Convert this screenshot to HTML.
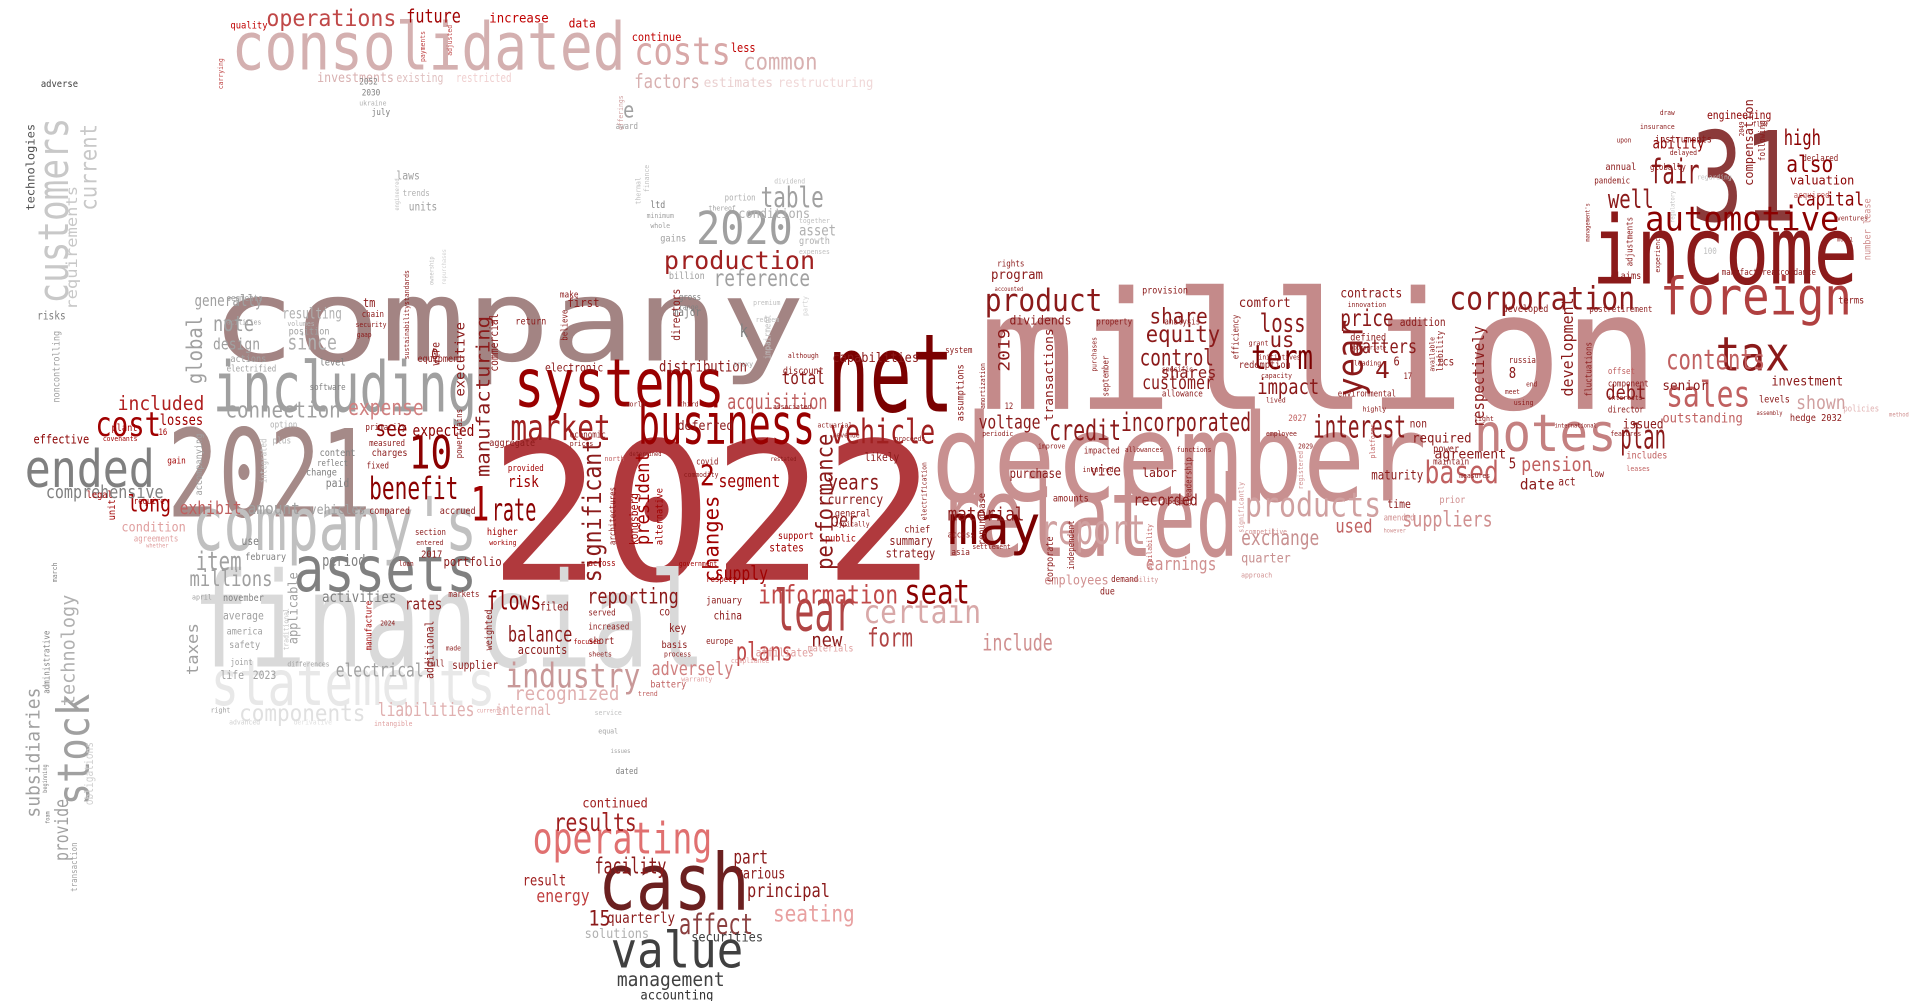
<!DOCTYPE html>
<html><head><meta charset="utf-8"><style>
html,body{margin:0;padding:0;background:#fff;width:1920px;height:1001px;overflow:hidden}
svg{display:block}
text{font-family:"DejaVu Sans Mono","Liberation Mono",monospace}
</style></head><body>
<svg id="cloud" width="1920" height="1001" viewBox="0 0 1550 808" xmlns="http://www.w3.org/2000/svg"></svg>
<script>
// word, x, baseline y, font size, width, color, rotated(1 = vertical)
const words = [
["2022",395,468,155,360,"#b0393d",0],
["million",790,330,132,550,"#c48a8a",0],
["company",170,291,92,480,"#a38483",0],
["december",752,404,98,400,"#c89090",0],
["financial",155,538,106,415,"#d9d9d9",0],
["income",1285,229,76,215,"#8b1a1a",0],
["31",1365,178,100,85,"#8b3a3a",0],
["related",757,449,90,243,"#c89090",0],
["net",668,332,88,102,"#7a0000",0],
["systems",415,328,54,170,"#990000",0],
["business",515,358,45,143,"#990000",0],
["including",172,332,56,213,"#a0a0a0",0],
["2021",135,417,98,165,"#a58a88",0],
["company's",155,444,60,230,"#c0c0c0",0],
["assets",237,477,50,148,"#808080",0],
["statements",170,569,50,230,"#e8e8e8",0],
["ended",20,393,42,105,"#808080",0],
["consolidated",187,56,53,318,"#d4b0b0",0],
["cash",483,734,63,122,"#6b2020",0],
["value",493,781,40,107,"#404040",0],
["operating",430,689,35,145,"#e07070",0],
["foreign",1340,254,42,155,"#b04040",0],
["automotive",1328,186,27,157,"#8b0000",0],
["tax",1385,299,38,60,"#8b1a1a",0],
["notes",1190,364,42,115,"#c48080",0],
["corporation",1170,250,26,150,"#8b1a1a",0],
["may",765,439,44,75,"#7a0000",0],
["lear",625,509,46,65,"#b04444",0],
["report",840,439,33,85,"#d0a0a0",0],
["products",1005,417,27,110,"#d0a0a0",0],
["2020",562,197,37,78,"#a0a0a0",0],
["production",536,217,20,122,"#a02020",0],
["costs",512,52,31,78,"#d8a8a8",0],
["market",412,355,29,81,"#a02020",0],
["vehicle",670,358,27,85,"#a02020",0],
["certain",697,503,26,95,"#d8a8a8",0],
["industry",408,555,27,109,"#c89898",0],
["information",612,487,21,113,"#c04848",0],
["seat",730,487,27,53,"#8b0000",0],
["plans",594,533,21,46,"#c04848",0],
["10",330,378,37,35,"#8b0000",0],
["cost",77,352,27,53,"#a00000",0],
["included",95,331,16,70,"#b02020",0],
["long",103,413,19,35,"#a00000",0],
["benefit",298,403,25,72,"#8b0000",0],
["rate",397,420,25,36,"#8b0000",0],
["1",380,420,38,15,"#a00000",0],
["sales",1345,328,29,68,"#c06060",0],
["plan",1308,362,27,37,"#8b1a1a",0],
["contents",1345,298,22,80,"#c06060",0],
["interest",1060,353,25,75,"#8b1a1a",0],
["incorporated",905,348,21,105,"#8b1a1a",0],
["credit",847,355,23,58,"#8b1a1a",0],
["product",795,251,25,95,"#8b1a1a",0],
["term",1010,298,27,50,"#7a0000",0],
["control",920,295,19,60,"#8b1a1a",0],
["equity",925,276,19,60,"#8b1a1a",0],
["share",928,261,17,47,"#8b1a1a",0],
["customer",922,314,15,58,"#8b1a1a",0],
["shares",937,305,13,45,"#8b1a1a",0],
["loss",1017,268,21,37,"#8b1a1a",0],
["us",1025,280,17,20,"#8b1a1a",0],
["impact",1015,318,17,50,"#8b1a1a",0],
["price",1082,263,19,43,"#8b1a1a",0],
["matters",1092,285,15,52,"#8b1a1a",0],
["4",1110,305,19,12,"#8b1a1a",0],
["based",1150,390,25,60,"#c06060",0],
["suppliers",1132,425,17,73,"#d09090",0],
["exchange",1002,440,17,63,"#c89090",0],
["quarter",1002,454,11,40,"#c89090",0],
["used",1078,430,15,30,"#c06060",0],
["fair",1332,148,27,40,"#8b1a1a",0],
["well",1298,168,21,37,"#8b1a1a",0],
["high",1440,117,17,30,"#8b0000",0],
["also",1442,139,19,38,"#8b0000",0],
["capital",1450,166,15,55,"#8b0000",0],
["valuation",1445,149,10,52,"#8b0000",0],
["ability",1334,120,12,42,"#8b0000",0],
["engineering",1378,96,9,52,"#8b0000",0],
["table",614,167,23,51,"#a0a0a0",0],
["reference",576,231,19,78,"#a0a0a0",0],
["conditions",596,176,11,58,"#b0b0b0",0],
["asset",645,190,12,30,"#b0b0b0",0],
["operations",215,21,19,105,"#c04848",0],
["future",328,18,15,44,"#a00000",0],
["increase",395,18,11,48,"#c00000",0],
["data",459,22,10,22,"#c00000",0],
["continue",510,33,9,40,"#c00000",0],
["less",590,42,10,20,"#c00000",0],
["common",600,56,19,60,"#d8b0b0",0],
["factors",512,71,16,53,"#d8b0b0",0],
["estimates",568,70,11,56,"#ead0d0",0],
["restructuring",628,70,11,77,"#f0d8d8",0],
["investments",256,66,11,62,"#d8b0b0",0],
["existing",320,66,10,38,"#e0c0c0",0],
["restricted",368,66,10,45,"#f0d0d0",0],
["quality",186,23,8,30,"#c00000",0],
["note",172,267,17,33,"#a0a0a0",0],
["generally",157,247,13,55,"#a0a0a0",0],
["design",172,282,13,38,"#a0a0a0",0],
["since",232,282,17,40,"#b0b0b0",0],
["resulting",228,257,12,48,"#b0b0b0",0],
["connection",182,337,18,93,"#a0a0a0",0],
["expense",281,335,18,61,"#d08080",0],
["see",303,352,17,26,"#8b0000",0],
["expected",333,352,13,50,"#8b0000",0],
["item",158,460,21,37,"#a0a0a0",0],
["millions",153,473,17,67,"#a0a0a0",0],
["comprehensive",37,402,14,95,"#808080",0],
["effective",27,358,10,45,"#8b0000",0],
["losses",129,343,12,35,"#a00000",0],
["exhibit",145,415,14,50,"#c06060",0],
["amount",200,415,13,42,"#a0a0a0",0],
["vehicles",250,415,11,45,"#a0a0a0",0],
["condition",98,429,11,52,"#e0a0a0",0],
["flows",393,492,21,44,"#8b0000",0],
["balance",410,518,17,52,"#8b1a1a",0],
["accounts",418,528,10,40,"#8b1a1a",0],
["reporting",474,487,17,74,"#8b1a1a",0],
["rates",327,492,13,30,"#8b1a1a",0],
["activities",260,486,12,60,"#808080",0],
["period",260,457,13,35,"#808080",0],
["electrical",271,546,15,71,"#a0a0a0",0],
["components",193,582,19,102,"#e0e0e0",0],
["liabilities",305,578,15,78,"#e0b0b0",0],
["recognized",415,565,16,85,"#e0b0b0",0],
["internal",400,577,12,45,"#e0b0b0",0],
["adversely",526,545,15,66,"#d08080",0],
["supply",577,468,16,43,"#a00000",0],
["segment",580,393,14,50,"#a00000",0],
["2",565,392,23,12,"#a00000",0],
["acquisition",587,330,17,81,"#c06060",0],
["total",631,310,14,35,"#8b1a1a",0],
["capabilities",672,292,11,70,"#8b1a1a",0],
["distribution",532,300,12,71,"#8b1a1a",0],
["years",668,395,17,42,"#8b1a1a",0],
["per",670,425,15,22,"#8b1a1a",0],
["new",655,522,15,25,"#8b1a1a",0],
["form",700,522,21,37,"#b04444",0],
["include",793,525,19,57,"#d09090",0],
["material",765,420,15,62,"#8b1a1a",0],
["voltage",790,346,15,50,"#8b1a1a",0],
["pension",1228,380,16,57,"#c06060",0],
["date",1227,395,12,28,"#8b1a1a",0],
["maturity",1107,387,11,42,"#8b1a1a",0],
["agreement",1158,370,11,58,"#8b1a1a",0],
["required",1140,357,11,48,"#8b1a1a",0],
["shown",1450,330,15,40,"#d0a0a0",0],
["senior",1342,315,11,37,"#8b1a1a",0],
["outstanding",1342,341,11,65,"#c06060",0],
["debt",1296,322,16,33,"#8b1a1a",0],
["issued",1310,346,11,33,"#8b1a1a",0],
["investment",1430,311,11,58,"#8b1a1a",0],
["comfort",1000,248,11,42,"#8b1a1a",0],
["contracts",1082,240,11,50,"#8b1a1a",0],
["dividends",815,262,10,50,"#8b1a1a",0],
["program",800,225,11,42,"#8b1a1a",0],
["earnings",925,460,14,57,"#d09090",0],
["employees",843,472,11,52,"#d09090",0],
["results",447,671,20,67,"#a02020",0],
["continued",470,652,11,53,"#a02020",0],
["facility",480,705,18,58,"#8b1a1a",0],
["principal",603,724,15,67,"#8b1a1a",0],
["part",592,697,15,28,"#8b1a1a",0],
["various",594,709,12,40,"#8b1a1a",0],
["seating",624,744,19,66,"#e8a0a0",0],
["affect",548,754,23,60,"#8b4040",0],
["quarterly",490,745,12,55,"#8b1a1a",0],
["15",475,747,17,18,"#8b1a1a",0],
["result",422,715,12,35,"#a02020",0],
["energy",433,728,14,43,"#c04040",0],
["solutions",472,757,11,52,"#b0b0b0",0],
["securities",558,760,11,58,"#404040",0],
["management",498,796,16,87,"#404040",0],
["accounting",517,807,11,59,"#303030",0],
["recorded",915,408,13,52,"#8b1a1a",0],
["vice",880,384,12,25,"#8b1a1a",0],
["purchase",815,386,11,42,"#8b1a1a",0],
["labor",922,385,10,28,"#8b1a1a",0],
["strategy",715,450,10,40,"#8b1a1a",0],
["summary",718,440,10,35,"#8b1a1a",0],
["currency",668,407,11,45,"#8b1a1a",0],
["deferred",547,347,11,45,"#8b1a1a",0],
["risk",410,393,13,25,"#a00000",0],
["adverse",33,70,8,30,"#404040",0],
["technologies",28,170,9,70,"#505050",1],
["customers",55,245,34,150,"#c8c8c8",1],
["requirements",62,250,12,100,"#c8c8c8",1],
["current",78,170,19,70,"#c8c8c8",1],
["stock",72,650,36,90,"#a0a0a0",1],
["technology",60,570,15,90,"#b0b0b0",1],
["subsidiaries",32,660,15,105,"#a0a0a0",1],
["provide",55,695,15,50,"#a0a0a0",1],
["global",163,310,17,55,"#a0a0a0",1],
["significant",485,470,21,115,"#8b1a1a",1],
["performance",672,460,19,110,"#8b1a1a",1],
["changes",580,470,17,70,"#a00000",1],
["president",524,440,15,75,"#a00000",1],
["manufacturing",395,385,15,130,"#8b1a1a",1],
["executive",375,320,11,60,"#8b1a1a",1],
["year",1100,320,29,62,"#8b1a1a",1],
["respectively",1198,345,13,82,"#8b1a1a",1],
["2019",815,300,13,35,"#8b1a1a",1],
["transactions",850,340,10,75,"#8b1a1a",1],
["taxes",160,545,13,42,"#a0a0a0",1],
["applicable",240,520,11,58,"#a0a0a0",1],
["development",1270,320,13,80,"#8b1a1a",1],
["compensation",1415,150,10,70,"#8b1a1a",1]
];
// small filler words: word, x, baseline y, size, color, rotated
const smallWords = [
["laws",320,145,9,"#a0a0a0",0],["trends",325,158,7,"#b0b0b0",0],["units",330,170,9,"#a0a0a0",0],
["2052",290,68,7,"#808080",0],["2030",292,77,7,"#808080",0],["ukraine",290,85,6,"#b0b0b0",0],["july",300,93,7,"#808080",0],
["award",497,104,7,"#a0a0a0",0],["e",503,95,18,"#a0a0a0",0],["ltd",525,168,8,"#808080",0],["minimum",522,176,6,"#a0a0a0",0],
["whole",525,184,6,"#a0a0a0",0],["gains",533,195,8,"#a0a0a0",0],["billion",540,225,8,"#a0a0a0",0],["growth",645,197,8,"#b0b0b0",0],
["portion",585,162,7,"#b0b0b0",0],["dividend",625,148,6,"#c0c0c0",0],["thereof",572,170,6,"#a0a0a0",0],["together",645,180,6,"#c0c0c0",0],
["expenses",645,205,6,"#c0c0c0",0],["premium",608,246,6,"#c0c0c0",0],["redeem",610,260,6,"#c0c0c0",0],
["k",597,272,14,"#808080",0],["major",543,255,9,"#808080",0],["gross",548,242,7,"#808080",0],["range",548,250,6,"#808080",0],
["first",458,248,10,"#8b1a1a",0],["make",452,240,7,"#8b1a1a",0],["return",416,262,8,"#8b1a1a",0],["tm",293,248,10,"#8b1a1a",0],
["chain",292,256,7,"#8b1a1a",0],["security",287,264,6,"#8b1a1a",0],["gaap",288,272,6,"#8b1a1a",0],["position",233,270,8,"#a0a0a0",0],
["level",258,295,8,"#808080",0],["actions",186,292,8,"#a0a0a0",0],["electrified",183,300,7,"#a0a0a0",0],["software",250,315,7,"#808080",0],
["segments",183,243,7,"#a0a0a0",0],["facilities",180,262,6,"#a0a0a0",0],["volumes",232,263,6,"#b0b0b0",0],
["option",218,345,7,"#b0b0b0",0],["plus",220,358,7,"#b0b0b0",0],["content",258,368,8,"#808080",0],["reflect",256,376,7,"#808080",0],
["change",247,384,8,"#808080",0],["paid",263,393,9,"#808080",0],["primarily",295,347,7,"#8b1a1a",0],["measured",298,360,7,"#8b1a1a",0],
["charges",300,368,8,"#8b1a1a",0],["fixed",296,378,7,"#8b1a1a",0],["compared",298,415,8,"#8b1a1a",0],["accrued",355,415,8,"#8b1a1a",0],
["higher",393,432,8,"#a00000",0],["working",395,440,6,"#a00000",0],["section",335,432,7,"#8b1a1a",0],["entered",336,440,6,"#8b1a1a",0],
["2017",340,450,8,"#8b1a1a",0],["portfolio",358,457,10,"#8b1a1a",0],["use",195,440,9,"#808080",0],["february",198,452,8,"#808080",0],
["november",180,485,8,"#808080",0],["average",180,500,9,"#a0a0a0",0],["america",183,512,8,"#a0a0a0",0],["safety",185,523,8,"#a0a0a0",0],
["joint",186,537,7,"#a0a0a0",0],["life",178,548,9,"#a0a0a0",0],["2023",204,548,9,"#a0a0a0",0],["april",155,484,6,"#a0a0a0",0],
["supplier",365,540,9,"#8b1a1a",0],["full",344,538,7,"#8b1a1a",0],["made",360,525,6,"#8b1a1a",0],["markets",362,482,7,"#8b1a1a",0],
["loan",322,457,6,"#8b1a1a",0],["differences",232,538,6,"#a0a0a0",0],["2024",307,505,6,"#8b1a1a",0],
["filed",436,493,9,"#8b1a1a",0],["served",475,497,7,"#8b1a1a",0],["increased",475,508,7,"#8b1a1a",0],["short",475,520,8,"#8b1a1a",0],
["sheets",475,530,6,"#8b1a1a",0],["key",540,510,9,"#8b1a1a",0],["basis",534,523,8,"#8b1a1a",0],["process",536,530,6,"#8b1a1a",0],
["china",576,500,9,"#8b1a1a",0],["january",570,487,8,"#8b1a1a",0],["europe",570,520,7,"#8b1a1a",0],["co",532,497,9,"#8b1a1a",0],
["affiliates",610,530,9,"#e0a0a0",0],["materials",652,526,8,"#e0a0a0",0],["compliance",590,535,6,"#e0a0a0",0],["battery",525,555,8,"#c06060",0],
["trend",515,562,6,"#c06060",0],["warranty",550,550,6,"#e0a0a0",0],["service",480,577,6,"#c0c0c0",0],["equal",483,592,6,"#a0a0a0",0],
["issues",493,608,5,"#a0a0a0",0],["dated",497,625,7,"#808080",0],["respect",570,470,7,"#a00000",0],["government",548,457,6,"#a00000",0],
["across",475,457,7,"#a00000",0],["focused",463,520,6,"#a00000",0],["states",621,445,9,"#a00000",0],["public",666,437,8,"#a00000",0],
["support",628,435,8,"#a00000",0],["chief",730,430,8,"#8b1a1a",0],["access",765,434,7,"#8b1a1a",0],["asia",768,448,7,"#8b1a1a",0],
["settlement",785,443,6,"#8b1a1a",0],["likely",698,372,9,"#8b1a1a",0],["general",674,417,8,"#8b1a1a",0],["typically",674,425,6,"#8b1a1a",0],
["actuarial",660,345,6,"#8b1a1a",0],["revenue",672,353,6,"#8b1a1a",0],["proceeds",722,356,6,"#8b1a1a",0],["system",763,285,7,"#8b1a1a",0],
["12",811,330,7,"#8b1a1a",0],["periodic",793,352,6,"#8b1a1a",0],["improve",838,362,6,"#8b1a1a",0],["impacted",875,366,7,"#8b1a1a",0],
["incurred",874,381,6,"#8b1a1a",0],["amounts",850,405,8,"#8b1a1a",0],["demand",897,470,7,"#8b1a1a",0],["due",888,480,8,"#8b1a1a",0],
["mobility",910,470,6,"#d09090",0],["allowances",908,365,6,"#8b1a1a",0],["functions",950,365,6,"#8b1a1a",0],["looking",940,407,6,"#8b1a1a",0],
["approach",1002,466,6,"#d09090",0],["competitive",1005,431,6,"#d09090",0],["employee",1022,352,6,"#8b1a1a",0],["2027",1040,340,7,"#c06060",0],
["2029",1048,362,6,"#8b1a1a",0],["lived",1022,325,6,"#8b1a1a",0],["capacity",1018,305,6,"#8b1a1a",0],["initiatives",1016,290,6,"#8b1a1a",0],
["grant",1008,279,6,"#8b1a1a",0],["redemption",1000,297,8,"#8b1a1a",0],["allowance",938,320,7,"#8b1a1a",0],["specific",938,300,6,"#8b1a1a",0],
["analysis",940,262,7,"#8b1a1a",0],["provision",922,237,8,"#8b1a1a",0],["property",885,262,7,"#8b1a1a",0],["rights",805,215,7,"#8b1a1a",0],
["accounted",803,235,5,"#8b1a1a",0],["environmental",1080,320,7,"#8b1a1a",0],["highly",1100,332,6,"#8b1a1a",0],["leading",1093,295,6,"#8b1a1a",0],
["6",1125,295,10,"#8b1a1a",0],["17",1133,306,7,"#8b1a1a",0],
["defined",1090,275,8,"#8b1a1a",0],["appropriate",1090,282,5,"#8b1a1a",0],["innovation",1088,248,6,"#8b1a1a",0],["addition",1130,263,9,"#8b1a1a",0],
["ics",1160,295,9,"#8b1a1a",0],["non",1138,345,9,"#8b1a1a",0],["power",1157,365,8,"#8b1a1a",0],["maintain",1157,375,7,"#8b1a1a",0],
["measures",1178,386,6,"#8b1a1a",0],["prior",1162,406,8,"#d09090",0],["time",1120,410,9,"#8b1a1a",0],["amended",1117,420,7,"#d09090",0],
["however",1117,430,5,"#d09090",0],["light",1190,340,6,"#8b1a1a",0],["russia",1218,293,7,"#8b1a1a",0],["8",1218,305,12,"#8b1a1a",0],
["meet",1215,318,6,"#8b1a1a",0],["using",1222,327,6,"#8b1a1a",0],["end",1232,312,6,"#8b1a1a",0],["developed",1213,252,8,"#8b1a1a",0],
["postretirement",1283,252,7,"#8b1a1a",0],["international",1255,345,5,"#8b1a1a",0],["offset",1298,302,7,"#c06060",0],["component",1298,312,7,"#8b1a1a",0],
["interests",1298,323,6,"#8b1a1a",0],["director",1298,333,7,"#8b1a1a",0],["features",1300,352,6,"#8b1a1a",0],["includes",1313,370,8,"#c06060",0],
["leases",1313,380,6,"#c06060",0],["low",1283,385,8,"#8b1a1a",0],["act",1258,392,9,"#8b1a1a",0],["5",1218,378,12,"#8b1a1a",0],["terms",1484,245,8,"#8b1a1a",0],
["hedge 2032",1445,340,8,"#8b1a1a",0],["levels",1420,325,8,"#8b1a1a",0],["assembly",1418,335,5,"#8b1a1a",0],["policies",1488,332,7,"#e0b0b0",0],
["method",1525,336,5,"#d09090",0],["manufacturers",1390,222,7,"#8b1a1a",0],["accordance",1430,222,7,"#8b1a1a",0],["claims",1300,225,8,"#8b1a1a",0],
["pandemic",1287,148,7,"#8b1a1a",0],["annual",1296,137,8,"#8b1a1a",0],["globally",1332,137,7,"#8b1a1a",0],["delayed",1348,125,6,"#8b1a1a",0],
["instruments",1336,115,8,"#8b1a1a",0],["insurance",1324,104,6,"#8b1a1a",0],["draw",1340,93,6,"#8b1a1a",0],["flow",1415,102,6,"#8b1a1a",0],
["declared",1455,130,7,"#8b1a1a",0],["acquired",1448,160,7,"#c06060",0],["ventures",1483,178,6,"#8b1a1a",0],["model",1483,195,5,"#8b1a1a",0],
["actual",1473,210,6,"#8b1a1a",0],["upon",1305,115,6,"#8b1a1a",0],["regarding",1370,145,6,"#c0c0c0",0],["100",1375,205,7,"#c0c0c0",0],
["risks",30,258,9,"#808080",0],["plant",90,348,8,"#a00000",0],["covenants",83,356,6,"#a00000",0],["legal",70,402,8,"#a00000",0],
["require",108,407,7,"#a00000",0],["16",128,351,7,"#a00000",0],["gain",135,374,7,"#a00000",0],["agreements",108,437,7,"#e0a0a0",0],
["whether",118,442,5,"#e0a0a0",0],["right",170,575,6,"#a0a0a0",0],["advanced",185,585,6,"#d0d0d0",0],["derivative",237,585,6,"#e0e0e0",0],
["intangible",302,586,6,"#e0a0a0",0],["currently",385,575,5,"#e0a0a0",0],["0",348,290,12,"#8b1a1a",0],["equipment",337,292,8,"#8b1a1a",0],
["aggregate",395,360,8,"#8b1a1a",0],["economic",460,353,7,"#8b1a1a",0],["prices",460,360,6,"#8b1a1a",0],["world",505,328,6,"#8b1a1a",0],
["third",548,328,6,"#8b1a1a",0],["electronic",440,300,9,"#8b1a1a",0],["north",488,372,6,"#c06060",0],["determined",508,368,5,"#8b1a1a",0],
["commodity",552,385,6,"#8b1a1a",0],["covid",562,375,7,"#8b1a1a",0],["restated",622,372,5,"#8b1a1a",0],["associated",624,330,6,"#8b1a1a",0],
["discount",632,302,8,"#8b1a1a",0],["although",636,289,6,"#8b1a1a",0],["proxy",592,296,6,"#a0a0a0",0],["provided",410,380,7,"#a00000",0],
["noncontrolling",48,325,8,"#a0a0a0",1],["administrative",40,560,7,"#808080",1],["march",46,470,6,"#808080",1],["beginning",38,640,5,"#808080",1],
["foam",40,665,5,"#808080",1],["transaction",62,720,7,"#a0a0a0",1],["obligations",75,650,9,"#d0d0d0",1],["unit",93,420,8,"#a00000",1],
["accompanying",163,400,8,"#a0a0a0",1],["integrated",215,390,7,"#c0c0c0",1],["manufacture",300,525,7,"#a00000",1],["additional",350,548,9,"#8b1a1a",1],
["weighted",397,525,8,"#8b1a1a",1],["traditional",233,525,6,"#c0c0c0",1],["powertrains",373,370,7,"#8b1a1a",1],["wire",355,295,9,"#8b1a1a",1],
["commercial",402,300,9,"#8b1a1a",1],["sustainabilitystandards",330,290,6,"#8b1a1a",1],["directors",549,275,9,"#8b1a1a",1],
["thermal",517,165,6,"#c0c0c0",1],["finance",524,155,6,"#c0c0c0",1],["offerings",503,105,6,"#d0a0a0",1],["engineered",322,170,5,"#c0c0c0",1],
["ownership",350,230,5,"#c0c0c0",1],["repurchases",360,230,5,"#d0d0d0",1],["party",652,255,6,"#d0d0d0",1],["impairment",622,290,7,"#c0c0c0",1],
["carrying",180,72,6,"#c04848",1],["payments",343,50,6,"#c04848",1],["adjusted",365,45,6,"#c04848",1],["believe",458,275,7,"#8b1a1a",1],
["architectures",497,440,7,"#8b1a1a",1],["kongsberg",515,440,9,"#a00000",1],["alternative",535,440,8,"#a00000",1],["electrification",748,420,6,"#8b1a1a",1],
["assumptions",778,340,8,"#8b1a1a",1],["amortization",795,330,6,"#8b1a1a",1],["repurchase",795,440,8,"#8b1a1a",1],["corporate",850,470,8,"#8b1a1a",1],
["independent",867,460,7,"#8b1a1a",1],["purchases",885,300,6,"#8b1a1a",1],["september",895,320,7,"#8b1a1a",1],["availability",930,460,6,"#c06060",1],
["leadership",962,405,7,"#8b1a1a",1],["efficiency",1000,290,7,"#8b1a1a",1],["significantly",1004,430,6,"#d09090",1],["registered",1052,395,6,"#d09090",1],
["platforms",1110,370,6,"#c06060",1],["liability",1165,300,7,"#8b1a1a",1],["available",1158,300,6,"#8b1a1a",1],["fluctuations",1285,320,7,"#8b1a1a",1],
["adjustments",1318,215,7,"#8b1a1a",1],["experience",1340,220,6,"#8b1a1a",1],["management's",1283,195,5,"#8b1a1a",1],["regulatory",1352,180,5,"#c0c0c0",1],
["number lease",1510,210,8,"#d09090",1],["following",1425,130,7,"#8b1a1a",1],["2049",1408,110,6,"#8b1a1a",1]
];
const svg = document.getElementById('cloud');
const NS = 'http://www.w3.org/2000/svg';
for (const w of words) {
  const [txt, x, y, fs, wd, col, rot] = w;
  const t = document.createElementNS(NS, 'text');
  t.setAttribute('x', x);
  t.setAttribute('y', y);
  t.setAttribute('font-size', fs);
  t.setAttribute('fill', col);
  t.setAttribute('textLength', wd);
  t.setAttribute('lengthAdjust', 'spacingAndGlyphs');
  if (rot) t.setAttribute('transform', 'rotate(-90 ' + x + ' ' + y + ')');
  t.textContent = txt;
  
  
  svg.appendChild(t);
}
for (const w of smallWords) {
  const [txt, x, y, fs, col, rot] = w;
  const t = document.createElementNS(NS, 'text');
  t.setAttribute('x', x);
  t.setAttribute('y', y);
  t.setAttribute('font-size', fs);
  t.setAttribute('fill', col);
  t.setAttribute('textLength', Math.round(txt.length * fs * 0.52));
  t.setAttribute('lengthAdjust', 'spacingAndGlyphs');
  if (rot) t.setAttribute('transform', 'rotate(-90 ' + x + ' ' + y + ')');
  t.textContent = txt;
  
  
  svg.appendChild(t);
}
</script>
</body></html>
